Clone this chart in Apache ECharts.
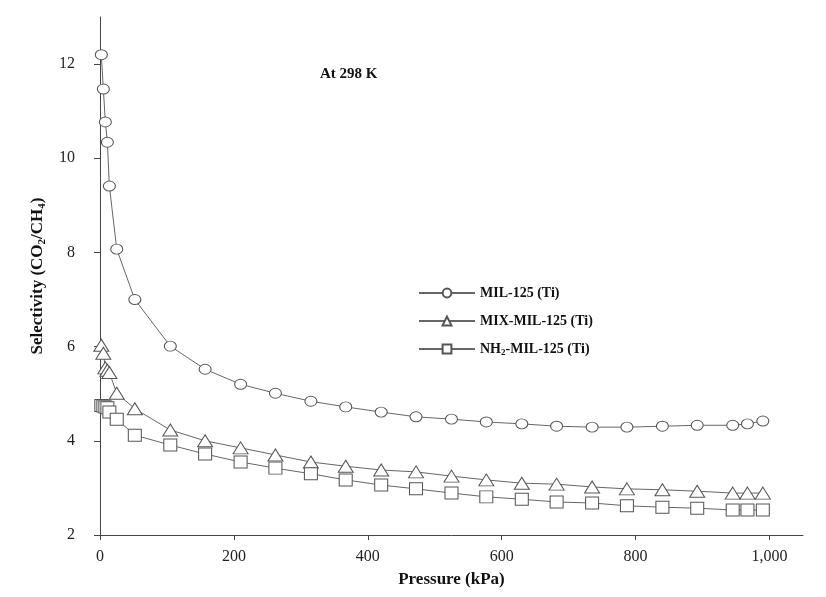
<!DOCTYPE html>
<html>
<head>
<meta charset="utf-8">
<script src="https://cdn.jsdelivr.net/npm/echarts@6/dist/echarts.min.js"></script>
<style>html,body{margin:0;padding:0;background:#fff;}#c{width:826px;height:597px;}</style>
</head>
<body>
<div id="c"></div>
<script>
const pressure = [2,5,8,11,14,25,52,105,157,210,262,315,367,420,472,525,577,630,682,735,787,840,892,945,967,990];
const mil125 = [12.2,11.47,10.77,10.34,9.41,8.07,7.0,6.01,5.52,5.2,5.01,4.84,4.72,4.61,4.51,4.46,4.40,4.36,4.31,4.29,4.29,4.31,4.33,4.33,4.36,4.42];
const mixMil125 = [6.03,5.86,5.55,5.5,5.45,5.01,4.68,4.23,4.0,3.85,3.70,3.55,3.46,3.38,3.34,3.25,3.17,3.10,3.08,3.02,2.98,2.96,2.93,2.89,2.89,2.89];
const nh2Mil125 = [4.75,4.74,4.72,4.70,4.61,4.46,4.12,3.91,3.72,3.55,3.42,3.30,3.17,3.06,2.98,2.89,2.81,2.76,2.70,2.68,2.62,2.59,2.57,2.53,2.53,2.53];
const seriesNames = ['MIL-125 (Ti)','MIX-MIL-125 (Ti)','NH2-MIL-125 (Ti)'];
const xTicks = [0,200,400,600,800,1000];
const yTicks = [2,4,6,8,10,12];

const font = 'Liberation Serif, Times New Roman, serif';
const gray = '#666';
const pair = (ys) => pressure.map((p,i) => [p, ys[i]]);

const chart = echarts.init(document.getElementById('c'), null, {renderer:'canvas'});
function mk(name, data, symbol, size){
  return {
    name, type:'line', data: pair(data), symbol, symbolSize:size,
    showSymbol:true,
    lineStyle:{color:gray, width:1},
    itemStyle:{color:'#fff', borderColor:'#555', borderWidth:1},
    emphasis:{disabled:true}, animation:false, z: 3
  };
}
chart.setOption({
  animation:false,
  backgroundColor:'#fff',
  title:{text:'At 298 K', left:315, top:62, textStyle:{fontFamily:font, fontWeight:'bold', fontSize:15, color:'#111'}},
  grid:{left:100, right:23, top:17, bottom:62},
  legend:{
    orient:'vertical', left:413, top:281, itemGap:14, itemWidth:56, itemHeight:11,
    data:seriesNames,
    textStyle:{fontFamily:font, fontWeight:'bold', fontSize:14, color:'#111',
      rich:{a:{fontFamily:font, fontWeight:'bold', fontSize:14, color:'#111'},
            s:{fontFamily:font, fontWeight:'bold', fontSize:9, color:'#111', verticalAlign:'bottom', padding:[7,0,0,0]}}},
    formatter:function(n){ if(n.indexOf('NH2')===0){ return '{a|NH}{s|2}{a|'+n.slice(3)+'}'; } return '{a|'+n+'}'; }
  },
  xAxis:{
    type:'value', min:0, max:1050,
    name:'Pressure (kPa)', nameLocation:'middle', nameGap:36,
    nameTextStyle:{fontFamily:font, fontWeight:'bold', fontSize:17, color:'#111'},
    axisLine:{lineStyle:{color:'#444', width:1}},
    axisTick:{show:true, inside:false, length:5, customValues:xTicks, lineStyle:{color:'#444'}},
    axisLabel:{customValues:xTicks, margin:14, fontFamily:font, fontSize:16, color:'#222',
      formatter:function(v){return v>=1000? v.toLocaleString('en-US') : String(v);}},
    splitLine:{show:false}
  },
  yAxis:{
    type:'value', min:2, max:13,
    name:'{a|Selectivity (CO}{s|2}{a|/CH}{s|4}{a|)}', nameLocation:'middle', nameGap:52, nameRotate:90,
    nameTextStyle:{fontFamily:font, fontWeight:'bold', fontSize:17, color:'#111',
      rich:{a:{fontFamily:font, fontWeight:'bold', fontSize:17, color:'#111'},
            s:{fontFamily:font, fontWeight:'bold', fontSize:11, color:'#111', verticalAlign:'bottom', padding:[9,0,0,0]}}},
    axisLine:{show:true, lineStyle:{color:'#444', width:1}},
    axisTick:{show:true, inside:false, length:6, customValues:yTicks, lineStyle:{color:'#444'}},
    axisLabel:{customValues:yTicks, margin:25, fontFamily:font, fontSize:16, color:'#222'},
    splitLine:{show:false}
  },
  series:[
    mk(seriesNames[0], mil125, 'circle', [12,10]),
    mk(seriesNames[1], mixMil125, 'triangle', [15,12]),
    mk(seriesNames[2], nh2Mil125, 'rect', [13,12])
  ]
});
</script>
</body>
</html>
